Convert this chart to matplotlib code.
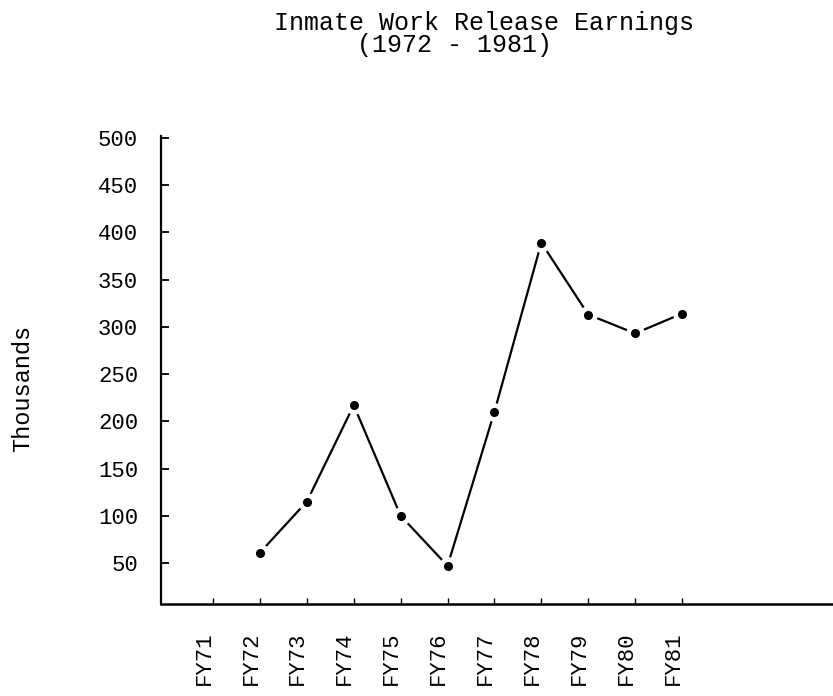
import matplotlib
matplotlib.use("Agg")
import matplotlib.pyplot as plt
import matplotlib.transforms as mtransforms

# Inmate work release earnings, thousands of dollars
years = ["FY71", "FY72", "FY73", "FY74", "FY75", "FY76",
         "FY77", "FY78", "FY79", "FY80", "FY81"]
earnings = [None, 61, 115, 217, 100, 47, 210, 389, 313, 293, 314]
y_ticks = [50, 100, 150, 200, 250, 300, 350, 400, 450, 500]

plt.rcParams["font.family"] = ["Liberation Mono", "DejaVu Sans Mono"]

fig = plt.figure(figsize=(8.33, 6.96), dpi=100)
ax = fig.add_axes([0.1933, 0.1322, 0.8067, 0.6724])

x = [i for i in range(len(years)) if earnings[i] is not None]
y = [v for v in earnings if v is not None]

# white marker edge leaves the little gaps around each dot
ax.plot(x, y, color="black", linewidth=1.6, marker="o", markersize=10,
        markerfacecolor="black", markeredgecolor="white", markeredgewidth=3.4)

ax.set_xlim(-1.11, 13.22)
ax.set_ylim(6.6, 502)

ax.set_xticks(range(len(years)))
ax.set_xticklabels(years, rotation=90, fontsize=16)
ax.set_yticks(y_ticks)
ax.set_yticklabels([str(t) for t in y_ticks], fontsize=16)

ax.tick_params(axis="y", direction="in", length=6, width=1.3, pad=16.5)
ax.tick_params(axis="x", direction="in", length=4, width=1.0, pad=20)

# labels were typed a bit left of the tick marks
offset = mtransforms.ScaledTranslation(-9 / 100, 0, fig.dpi_scale_trans)
for lab in ax.get_xticklabels():
    lab.set_transform(lab.get_transform() + offset)

for side in ["top", "right"]:
    ax.spines[side].set_visible(False)
ax.spines["left"].set_linewidth(1.6)
ax.spines["bottom"].set_linewidth(1.8)

# one text block, second line sits a little left of centre like the typed original
fig.text(484.5 / 833, 1 - 52 / 696,
         "Inmate Work Release Earnings\n(1972 - 1981)    ",
         ha="center", va="baseline", multialignment="center",
         fontsize=18, linespacing=0.9)
fig.text(23 / 833, 1 - 388 / 696, "Thousands", rotation=90,
         ha="center", va="center", fontsize=17)

fig.savefig("out.png", dpi=100)
